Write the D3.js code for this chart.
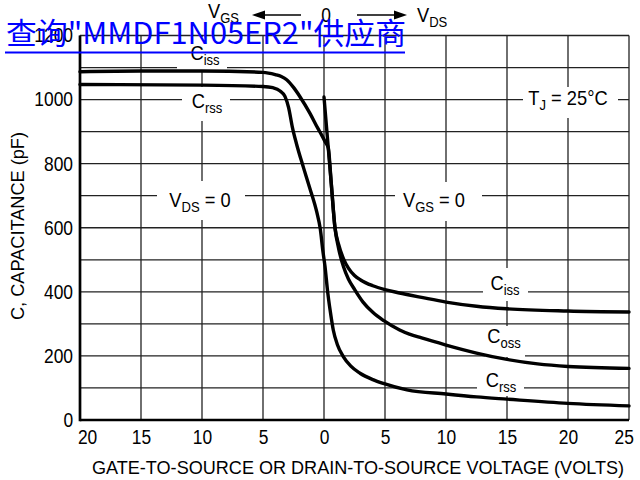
<!DOCTYPE html>
<html><head><meta charset="utf-8">
<script src="https://cdn.jsdelivr.net/npm/d3@7"></script>
<style>body{margin:0;background:#fff}svg{display:block}</style>
</head><body><svg id="c" width="640" height="480"></svg>
<script>
// ---------- data ----------
const xTickValues = [-20,-15,-10,-5,0,5,10,15,20,25];
const xTickLabels = ["20","15","10","5","0","5","10","15","20","25"];
const yTickValues = [0,200,400,600,800,1000,1200];
const yTickLabels = ["0","200","400","600","800","1000","1200"];
const yGridValues = [0,100,200,300,400,500,600,700,800,900,1000,1100,1200];
// volts: negative = VGS side (left), positive = VDS side (right); values in pF
const cissData = [[-20,1087],[-15,1089],[-10,1089],[-5,1085],[-4,1078],[-3.5,1072],[-3.06,1062],[-2.5,1038],[-1.97,1009],[-1.15,957],[-0.5,910],[-0.19,889],[0.1,868],[0.35,849],[0.6,736],[0.9,600],[1.2,548],[1.6,503],[2.0,474],[2.5,451],[3.0,437],[4,419],[5,407],[6,398],[7,390],[8,382.5],[10,368],[12.5,355],[15,347],[20,340],[25,337]];
const cossData = [[0,1008],[0.35,849],[0.6,736],[0.9,600],[1.2,535],[1.6,478],[2.0,440],[2.5,408],[3.2,368],[4,336],[4.9,310],[6.2,281],[7,268],[8,256],[10,234],[12.5,209],[15,189],[17.5,175],[20,167],[25,161]];
const crssData = [[-20,1047],[-10,1045],[-5,1041],[-4.2,1037],[-3.6,1027],[-3.2,1010],[-2.9,975],[-2.6,915],[-2.24,860],[-1.7,790],[-1.15,722],[-0.6,650],[-0.3,595],[-0.1,530],[0.08,480],[0.3,400],[0.5,343],[0.76,281],[1.1,235],[1.58,198],[2.2,168],[2.95,146],[4,126],[4.86,114],[6.8,94],[10,81],[12.5,72],[15,65],[20,52],[25,44]];

// ---------- layout ----------
const FONT = "'Liberation Sans',Arial,sans-serif";
const SX = 0.87; // condensed look
const svg = d3.select("#c");
const L = 80, R = 629, T = 35.5, B = 420;
const x = d3.scaleLinear().domain([-20,25]).range([L,R]);
const y = d3.scaleLinear().domain([0,1200]).range([B,T]);

// grid
const g = svg.append("g");
g.selectAll(".vg").data(xTickValues).join("line")
  .attr("x1",d=>x(d)).attr("x2",d=>x(d)).attr("y1",T).attr("y2",B)
  .attr("stroke","#222").attr("stroke-width",1.3);
g.selectAll(".hg").data(yGridValues).join("line")
  .attr("x1",L).attr("x2",R).attr("y1",d=>y(d)).attr("y2",d=>y(d))
  .attr("stroke","#222").attr("stroke-width",1.3);

// white label boxes (interrupt grid)
const boxes = [[177,37,50,34],[182,87,48,34],[157,181,88,39],[395,182,87,39],[523,87,95,31],[483,268,45,33],[485,326,40,31],[477,358,47,38]];
svg.append("g").selectAll("rect").data(boxes).join("rect")
  .attr("x",d=>d[0]).attr("y",d=>d[1]).attr("width",d=>d[2]).attr("height",d=>d[3]).attr("fill","#fff");

// axes
const xAxis = d3.axisBottom(x).tickValues(xTickValues).tickSize(0).tickPadding(10)
  .tickFormat((d,i)=>xTickLabels[i]);
const ax = svg.append("g").attr("transform",`translate(0,${B})`).call(xAxis);
ax.select(".domain").remove();
ax.selectAll("text").attr("font-family",FONT).attr("font-size",20).attr("fill","#000")
  .attr("text-anchor",(d,i)=> i===0?"start":(i===xTickValues.length-1?"end":"middle"))
  .attr("dx",(d,i)=> i===0?-3:(i===xTickValues.length-1?5:0))
  .attr("transform",`scale(${SX},1)`);
const yAxis = d3.axisLeft(y).tickValues(yTickValues).tickSize(0).tickPadding(8)
  .tickFormat((d,i)=>yTickLabels[i]);
const ay = svg.append("g").attr("transform",`translate(${L},0)`).call(yAxis);
ay.select(".domain").remove();
ay.selectAll("text").attr("font-family",FONT).attr("font-size",20).attr("fill","#000")
  .attr("transform",`scale(${SX},1)`);

svg.append("line").attr("x1",L).attr("x2",L).attr("y1",T).attr("y2",B+1.3).attr("stroke","#000").attr("stroke-width",2.7);
svg.append("line").attr("x1",L).attr("x2",R).attr("y1",B).attr("y2",B).attr("stroke","#000").attr("stroke-width",2.7);

// curves
const line = d3.line().x(d=>x(d[0])).y(d=>y(d[1])).curve(d3.curveMonotoneX);
[cissData,cossData,crssData].forEach(dd=>{
  svg.append("path").attr("d",line(dd)).attr("fill","none").attr("stroke","#000")
    .attr("stroke-width",3.4).attr("stroke-linejoin","round").attr("stroke-linecap","round");
});

// labels with subscripts
function label(cx, by, parts, anchor, fs){
  const t = svg.append("g").attr("transform",`translate(${cx},${by}) scale(${SX},1)`)
    .append("text").attr("font-family",FONT)
    .attr("font-size",fs||21).attr("text-anchor",anchor||"middle").attr("fill","#000");
  parts.forEach(p=>{
    const s = t.append("tspan").text(p[0]);
    if(p[1]==="sub") s.attr("font-size",15).attr("dy",5);
    else if(p[1]==="back") s.attr("dy",-5);
  });
  return t;
}
label(205,60,[["C"],["iss","sub"]]);
label(207,108,[["C"],["rss","sub"]]);
label(200,207,[["V"],["DS","sub"],[" = 0","back"]]);
label(434,207,[["V"],["GS","sub"],[" = 0","back"]]);
label(568,105,[["T"],["J","sub"],[" = 25°C","back"]]);
label(505,290,[["C"],["iss","sub"]]);
label(504,343,[["C"],["oss","sub"]]);
label(501,387,[["C"],["rss","sub"]]);

// top annotation
label(208,18,[["V"],["GS","sub"]],"start");
label(417,22,[["V"],["DS","sub"]],"start");
label(326,22,[["0"]],"middle",20);
function arrow(x1,x2,yy){
  const dir = Math.sign(x2-x1);
  svg.append("line").attr("x1",x1).attr("x2",x2-dir*10).attr("y1",yy).attr("y2",yy).attr("stroke","#000").attr("stroke-width",1.3);
  svg.append("path").attr("d",`M${x2},${yy}L${x2-dir*13},${yy-4.5}L${x2-dir*13},${yy+4.5}Z`).attr("fill","#000");
}
arrow(301,252,15);
arrow(357,407,15);

// axis titles
svg.append("text").attr("x",358).attr("y",474).attr("text-anchor","middle").attr("font-family",FONT)
  .attr("font-size",19).attr("textLength",532).attr("lengthAdjust","spacingAndGlyphs")
  .text("GATE-TO-SOURCE OR DRAIN-TO-SOURCE VOLTAGE (VOLTS)");
svg.append("text").attr("transform","translate(24,226) rotate(-90)").attr("text-anchor","middle")
  .attr("font-family",FONT).attr("font-size",19).attr("textLength",188).attr("lengthAdjust","spacingAndGlyphs")
  .text("C, CAPACITANCE (pF)");

// watermark link text
svg.append("text").attr("x",6).attr("y",44).attr("font-family","'Noto Sans CJK SC','Liberation Sans',sans-serif")
  .attr("font-size",30).attr("fill","#0000ff").attr("textLength",400).attr("lengthAdjust","spacingAndGlyphs")
  .text("查询\"MMDF1N05ER2\"供应商");
svg.append("line").attr("x1",5).attr("x2",405).attr("y1",52.5).attr("y2",52.5).attr("stroke","#0000ff").attr("stroke-width",2);
</script></body></html>
